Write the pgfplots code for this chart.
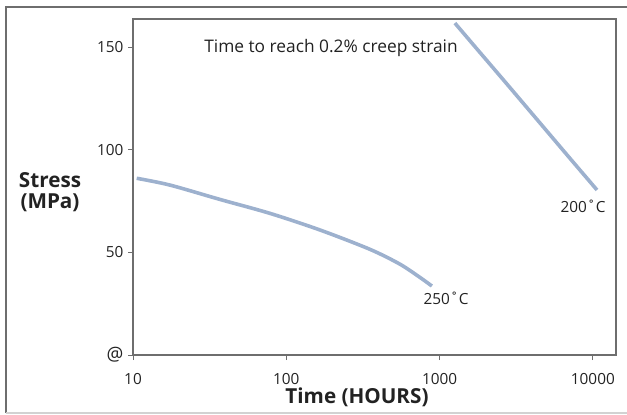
\documentclass[border=0pt]{standalone}
\usepackage{pgfplots}
\pgfplotsset{compat=1.18}
\usepackage{fontspec}
\setmainfont{Open Sans}
\definecolor{crpBlue}{HTML}{9DB1CE}
\definecolor{axGray}{HTML}{6E6E6E}
\definecolor{txtDark}{HTML}{222222}

\begin{document}
\begin{tikzpicture}[x=0.75pt,y=0.75pt]
\useasboundingbox (0,0) rectangle (627,414);
% outer frame
\draw[axGray,line width=0.9pt] (6,1) -- (6,407) -- (627,407);
\draw[gray!35,line width=0.9pt] (6,1) -- (627,1);
\begin{axis}[at={(99.75pt,44.25pt)},anchor=south west,scale only axis,
width=362.25pt,height=252pt,
xmode=log,xmin=10,xmax=14160,ymin=0,ymax=163.7,
xtick={10,100,1000,10000},xticklabels={10,100,1000,10000},
ytick={0,50,100,150},
yticklabels={{\fontsize{14}{14}\selectfont @},50,100,150},
minor tick style={draw=none},
tick align=outside,xtick pos=bottom,ytick pos=left,
major tick length=3.75pt,
tick style={axGray,line width=0.6pt},
axis line style={axGray,line width=0.9pt},
tick label style={font=\fontsize{11.5}{13}\selectfont,text=txtDark},
xticklabel style={yshift=-6.5pt},
/pgf/number format/assume math mode=true,
clip=false]
\addplot[crpBlue,line width=2.7pt,smooth] coordinates {
(10.57,86.1) (17.4,82.8) (36.9,75.8) (78.3,69.0) (166,60.9)
(351,51.5) (550,44.3) (745,37.8) (891,33.6)};
\addplot[crpBlue,line width=2.7pt,smooth] coordinates {
(1259,161.7) (1800,148.1) (2673,133.1) (4500,113.2) (7000,96.3) (10640,80.4)};
\end{axis}
\node[text=txtDark,font=\fontsize{13}{15}\selectfont] at (331,366) {Time to reach 0.2\% creep strain};
\node[text=txtDark,font=\fontsize{11.5}{13}\selectfont] at (583,208) {200˚C};
\node[text=txtDark,font=\fontsize{11.5}{13}\selectfont] at (446,116) {250˚C};
\node[text=txtDark,font=\bfseries\fontsize{15.5}{16}\selectfont,align=center] at (50,222) {Stress\\(MPa)};
\node[text=txtDark,font=\bfseries\fontsize{15.5}{16}\selectfont] at (357,17) {Time (HOURS)};
\end{tikzpicture}
\end{document}
